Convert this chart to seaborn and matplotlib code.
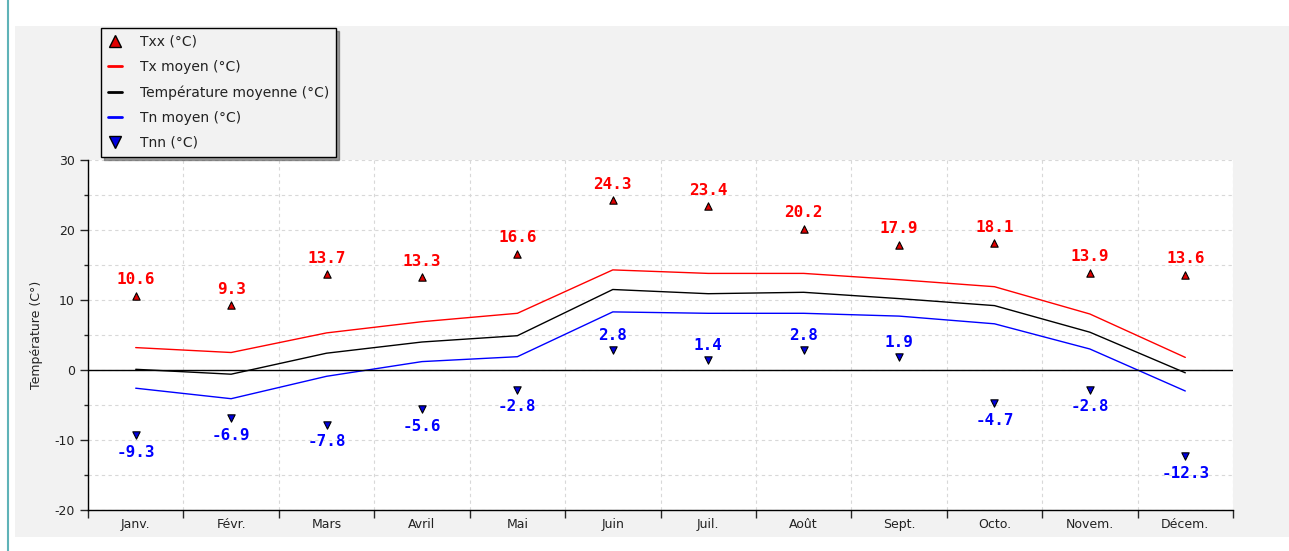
import numpy as np
import pandas as pd
import matplotlib
matplotlib.use("Agg")
import matplotlib.pyplot as plt
from matplotlib.lines import Line2D
from matplotlib.patches import Rectangle
import seaborn as sns

mois = ["Janv.", "Févr.", "Mars", "Avril", "Mai", "Juin", "Juil.", "Août",
        "Sept.", "Octo.", "Novem.", "Décem."]
txx = [10.6, 9.3, 13.7, 13.3, 16.6, 24.3, 23.4, 20.2, 17.9, 18.1, 13.9, 13.6]
tx_moy = [3.2, 2.5, 5.3, 6.9, 8.1, 14.3, 13.8, 13.8, 12.9, 11.9, 8.0, 1.8]
t_moy = [0.1, -0.6, 2.4, 4.0, 4.9, 11.5, 10.9, 11.1, 10.2, 9.2, 5.4, -0.4]
tn_moy = [-2.6, -4.1, -0.9, 1.2, 1.9, 8.3, 8.1, 8.1, 7.7, 6.6, 3.0, -3.0]
tnn = [-9.3, -6.9, -7.8, -5.6, -2.8, 2.8, 1.4, 2.8, 1.9, -4.7, -2.8, -12.3]

x = np.arange(len(mois))
df = pd.DataFrame({"x": x, "txx": txx, "tx": tx_moy, "tm": t_moy, "tn": tn_moy, "tnn": tnn})

sns.set_style("white")
plt.rcParams["font.family"] = ["DejaVu Sans"]
plt.rcParams["axes.unicode_minus"] = False

fig = plt.figure(figsize=(12.89, 5.51), dpi=100)
fig.patch.set_facecolor("white")
# gray panel and teal border line
fig.patches.append(Rectangle((15 / 1289, 14 / 551), 1 - 15 / 1289, 511 / 551,
                             transform=fig.transFigure, facecolor="#f2f2f2",
                             edgecolor="none", zorder=-2))
fig.lines.append(Line2D([8 / 1289, 8 / 1289], [0, 1], transform=fig.transFigure,
                        color="#5fb3b8", lw=1.5))

ax = fig.add_axes([88 / 1289, 41 / 551, 1145 / 1289, 350 / 551])
ax.set_facecolor("white")

sns.lineplot(data=df, x="x", y="tx", color="#ff0000", lw=1, ax=ax)
sns.lineplot(data=df, x="x", y="tm", color="#000000", lw=1, ax=ax)
sns.lineplot(data=df, x="x", y="tn", color="#0000ff", lw=1, ax=ax)
sns.scatterplot(data=df, x="x", y="txx", marker="^", color="#e00000",
                edgecolor="black", linewidth=0.8, s=28, ax=ax, zorder=5)
sns.scatterplot(data=df, x="x", y="tnn", marker="v", color="#0000e0",
                edgecolor="black", linewidth=0.8, s=28, ax=ax, zorder=5)

lab_font = dict(family="DejaVu Sans Mono", weight="bold", size=11.5)
for xi, v in zip(x, txx):
    ax.annotate(f"{v:.1f}", (xi, v), xytext=(0, 6), textcoords="offset points",
                ha="center", va="bottom", color="#ff0000", **lab_font)
for xi, v in zip(x, tnn):
    if v >= 0:
        ax.annotate(f"{v:.1f}", (xi, v), xytext=(0, 5), textcoords="offset points",
                    ha="center", va="bottom", color="#0000ff", **lab_font)
    else:
        ax.annotate(f"{v:.1f}", (xi, v), xytext=(0, -7), textcoords="offset points",
                    ha="center", va="top", color="#0000ff", **lab_font)

ax.axhline(0, color="black", lw=1, zorder=3)

ax.set_xlim(-0.5, len(mois) - 0.5)
ax.set_ylim(-20, 30)
ax.set_xticks(np.arange(len(mois) + 1) - 0.5)
ax.set_xticklabels([])
ax.set_xticks(x, minor=True)
ax.set_xticklabels(mois, minor=True)
ax.tick_params(axis="x", which="major", length=6, width=1, direction="out", bottom=True)
ax.tick_params(axis="x", which="minor", length=0, labelsize=9, pad=6, labelcolor="#222222")
ax.set_yticks([-20, -10, 0, 10, 20, 30])
ax.set_yticks([-15, -5, 5, 15, 25], minor=True)
ax.tick_params(axis="y", which="major", length=6, width=1, labelsize=9, left=True,
               labelcolor="#222222")
ax.tick_params(axis="y", which="minor", length=3, width=1, left=True)
ax.grid(True, which="major", axis="x", color="#d8d8d8", ls=(0, (3, 3)), lw=0.8)
ax.grid(True, which="both", axis="y", color="#d8d8d8", ls=(0, (3, 3)), lw=0.8)
for s in ["top", "right"]:
    ax.spines[s].set_visible(False)
for s in ["left", "bottom"]:
    ax.spines[s].set_color("black")
    ax.spines[s].set_linewidth(1)
ax.set_xlabel("")
ax.set_ylabel("Température (C°)", fontsize=9, labelpad=8, color="#222222")

handles = [
    Line2D([], [], marker="^", ls="none", color="#e00000", markeredgecolor="black", markersize=9),
    Line2D([], [], color="#ff0000", lw=2),
    Line2D([], [], color="black", lw=2),
    Line2D([], [], color="#0000ff", lw=2),
    Line2D([], [], marker="v", ls="none", color="#0000e0", markeredgecolor="black", markersize=9),
]
labels = ["Txx (°C)", "Tx moyen (°C)", "Température moyenne (°C)", "Tn moyen (°C)", "Tnn (°C)"]
leg = fig.legend(handles, labels, loc="upper left", bbox_to_anchor=(101 / 1289, 1 - 28 / 551),
                 fontsize=10, frameon=True, fancybox=False, shadow=True,
                 handlelength=1.0, handletextpad=1.3, labelspacing=0.8,
                 borderpad=0.5, borderaxespad=0)
leg.get_frame().set_edgecolor("black")
leg.get_frame().set_facecolor("#f2f2f2")
leg.get_frame().set_linewidth(1)
for t in leg.get_texts():
    t.set_color("#222222")

fig.savefig("out.png", dpi=100)
